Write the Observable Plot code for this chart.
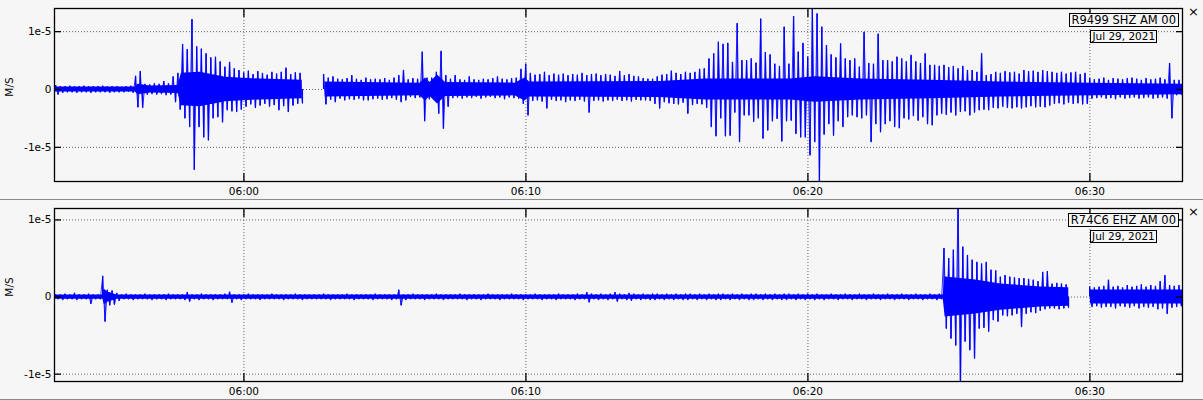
<!DOCTYPE html>
<html>
<head>
<meta charset="utf-8">
<script src="https://cdn.jsdelivr.net/npm/d3@7"></script>
<script src="https://cdn.jsdelivr.net/npm/@observablehq/plot@0.6"></script>
<style>
  html, body { margin: 0; padding: 0; background: #f6f6f6; }
  #wrap { position: relative; width: 1203px; height: 400px; overflow: hidden; background: #f6f6f6; font-family: "DejaVu Sans", sans-serif; }
  .panel { position: absolute; left: 0; }
  .sep { position: absolute; left: 0; width: 1203px; height: 1px; background: #8a8a8a; }
  .tag { position: absolute; right: 24px; display: flex; flex-direction: column; align-items: center; gap: 3px; }
  .tag div { border: 1px solid #000; background: #f6f6f6; color: #000; white-space: nowrap; }
  .tag .st { font-size: 11.5px; line-height: 12px; padding: 0 2px; }
  .tag .dt { font-size: 10.5px; line-height: 11px; padding: 0 1px; }
  .close { position: absolute; left: 1188px; font-size: 13px; line-height: 13px; color: #000; }
  .ylab { position: absolute; left: 9px; font-size: 10.5px; color: #000; transform: translate(-50%, -50%) rotate(-90deg); white-space: nowrap; }
</style>
</head>
<body>
<div id="wrap"></div>
<script>
// ---- time window and ticks ----
const day = "2021-07-29";
const windowStart = "05:53:17";
const windowEnd = "06:33:17";
const binSeconds = 10;
const xTickTimes = ["06:00:00", "06:10:00", "06:20:00", "06:30:00"];
const yTicks = [-1e-5, 0, 1e-5];
const yTickLabels = ["-1e-5", "0", "1e-5"];
const unitLabel = "M/S";
const stations = ["R9499 SHZ AM 00", "R74C6 EHZ AM 00"];
const dateLabel = "Jul 29, 2021";

// ---- panel 1 (R9499 SHZ): per-10 s bin peak up / peak down, in 1e-6 M/S ----
const p1Up = [
  0.7,0.5,0.5,0.6,0.5,0.5,0.6,0.5,0.5,0.5,0.6,0.5,0.5,0.5,0.4,0.5,0.6,
  2.3,3.1,0.9,0.8,1.0,0.9,1.4,1.0,2.2,2.8,7.8,6.9,12.1,7.4,7.0,6.2,5.5,5.6,4.8,3.9,4.7,3.6,3.3,
  2.9,3.2,2.6,3.1,2.8,2.5,3.0,2.7,3.0,3.7,2.6,2.9,2.8,
  null,null,null,null,
  2.6,
  2.0,2.2,1.8,1.7,1.9,2.4,1.8,1.6,2.0,1.7,1.8,1.7,1.9,1.6,2.0,2.4,3.3,1.7,1.9,1.8,
  6.5,2.0,2.0,3.0,6.6,2.4,
  1.8,2.4,1.7,1.6,2.2,1.7,1.6,1.8,1.7,1.9,2.2,1.8,1.7,1.9,2.0,
  3.5,4.4,
  2.8,2.5,2.6,3.0,2.4,2.7,2.5,2.7,2.4,2.6,2.5,2.8,2.4,2.6,2.7,2.4,2.6,2.5,2.3,3.1,2.4,2.6,2.3,2.2,
  1.9,1.8,1.8,2.2,2.5,2.6,3.2,2.8,2.6,3.0,2.8,3.0,3.5,3.6,5.3,6.2,8.2,7.8,8.0,4.7,11.4,5.0,5.0,5.3,4.6,
  12.2,6.4,6.0,4.4,4.0,10.8,4.4,12.6,6.5,8.0,5.6,14,13.1,10.8,7.6,6.0,5.5,7.9,5.3,5.0,5.3,3.9,9.9,4.5,4.4,
  9.6,5.0,5.0,4.8,5.6,
  5.3,4.8,5.9,4.8,4.5,6.2,4.2,4.2,4.0,4.2,3.8,4.0,3.6,4.0,3.3,3.3,3.0,6.2,2.4,2.6,
  3.0,2.8,3.1,2.9,3.0,2.7,3.3,3.1,3.2,3.0,3.3,3.1,3.0,2.8,3.0,2.7,2.9,3.0,2.6,2.8,
  1.9,1.7,1.8,2.0,1.6,1.9,1.8,1.7,1.9,2.0,1.8,1.6,1.9,1.7,1.8,2.0,1.7,
  4.5,1.6,1.6
];
const p1Down = [
  -0.9,-0.6,-0.5,-0.5,-0.6,-0.5,-0.5,-0.6,-0.5,-0.5,-0.5,-0.6,-0.5,-0.5,-0.5,-0.4,-0.6,
  -3.1,-3.2,-0.9,-0.8,-0.9,-0.8,-1.0,-0.9,-2.2,-3.5,-5.0,-6.5,-13.9,-6.5,-8.3,-8.8,-5.0,-4.8,-5.7,-3.6,-3.8,-3.9,-3.5,
  -3.0,-2.6,-3.2,-2.8,-2.5,-3.0,-2.7,-3.6,-2.9,-3.9,-2.8,-2.5,-2.4,
  null,null,null,null,
  -2.6,
  -1.8,-2.2,-1.6,-1.9,-1.7,-1.8,-1.6,-1.9,-1.9,-1.7,-1.6,-1.8,-1.7,-1.5,-1.8,-2.2,-1.9,-1.3,-1.5,-1.4,
  -5.5,-1.7,-1.6,-4.2,-6.8,-3.0,
  -1.5,-1.4,-1.6,-1.4,-1.5,-1.3,-1.6,-1.4,-1.3,-1.5,-1.4,-1.7,-1.4,-1.5,-1.6,
  -2.5,-4.5,
  -2.0,-1.9,-2.1,-3.3,-1.8,-2.0,-1.9,-2.2,-1.9,-2.0,-1.8,-2.1,-4.0,-2.0,-1.9,-2.1,-1.9,-2.0,-1.8,-2.0,-1.9,-2.1,-1.8,-1.9,
  -1.9,-2.0,-2.5,-3.3,-2.2,-2.4,-2.5,-2.6,-2.3,-4.2,-2.7,-2.5,-2.6,-3.2,-6.5,-8.1,-5.0,-8.1,-8.0,-4.0,-9.1,-4.5,-4.5,-5.6,-5.0,
  -8.5,-7.1,-5.5,-5.1,-9.0,-5.5,-5.4,-7.7,-8.3,-8.3,-11.4,-9.1,-16,-7.8,-6.0,-8.0,-5.5,-6.5,-4.8,-4.5,-4.8,-5.0,-4.5,-9.1,-6.0,
  -7.4,-6.0,-5.5,-6.5,-6.7,
  -5.0,-5.2,-4.6,-5.4,-4.8,-6.0,-6.2,-4.5,-4.2,-4.4,-4.0,-4.5,-3.9,-3.8,-4.5,-4.0,-3.6,-3.5,-3.6,-3.2,
  -3.3,-3.0,-3.2,-3.3,-3.1,-3.3,-3.1,-2.9,-3.1,-3.0,-3.1,-2.8,-2.5,-2.4,-2.6,-2.3,-2.5,-2.4,-2.6,-2.5,
  -1.6,-1.5,-1.4,-1.6,-1.5,-1.7,-1.4,-1.6,-1.5,-1.4,-1.6,-1.5,-1.4,-1.6,-1.5,-1.4,-1.6,
  -5.0,-1.0,-0.9
];
// dense core band of panel 1 (half-height, 1e-6 M/S) at read-off times; null = data gap
const p1CoreTimes = ["05:53:17","05:56:09","05:56:15","05:56:41","05:57:40","05:57:47","05:58:27","05:59:21","06:00:35","06:02:04","06:02:06","06:02:52","06:02:53","06:06:15","06:06:26","06:06:36","06:06:52","06:07:09","06:09:37","06:09:58","06:10:08","06:14:46","06:16:22","06:16:54","06:19:23","06:20:16","06:21:52","06:24:21","06:26:50","06:30:01","06:33:17"];
const p1Core = [0.45,0.45,0.9,0.6,0.7,2.8,3.0,2.1,1.8,1.6,null,null,1.3,1.1,2.0,1.2,2.5,1.2,1.1,2.0,1.3,1.4,1.8,1.8,1.8,2.2,1.8,1.6,1.3,1.1,0.9];

// ---- panel 2 (R74C6 EHZ): per-10 s bin peak up / peak down, in 1e-6 M/S ----
const p2Up = [
  0.3,0.3,0.4,0.3,0.5,0.3,0.3,0.4,0.3,0.3,
  2.7,0.9,0.8,0.5,
  0.3,0.4,0.3,0.3,0.3,0.4,0.3,0.3,0.3,0.3,0.4,0.3,0.3,0.3,
  0.6,
  0.3,0.3,0.4,0.3,0.3,0.3,0.3,0.4,
  0.65,
  0.3,0.3,0.3,0.4,0.3,0.3,0.3,0.3,0.4,0.3, 0.3,0.3,0.3,0.4,0.3,0.3,0.3,0.3,0.3,0.4,
  0.3,0.3,0.3,0.3,0.4,0.3,0.3,0.3,0.3,0.3, 0.4,0.3,0.3,0.3,0.3,
  0.9,
  0.3,0.3,0.4,0.3,0.3,0.3,0.3,0.4,0.3,0.3, 0.3,0.3,0.4,0.3,0.3,0.3,0.3,0.3,0.4,0.3,
  0.3,0.3,0.3,0.4,0.3,0.3,0.3,0.3,0.4,0.3, 0.3,0.3,0.3,0.4,0.3,0.3,0.3,0.4,0.3,
  0.6,
  0.4,0.3,0.4,0.3,0.4,
  0.6,
  0.4,0.3,
  0.5,
  0.4,0.3,0.4,0.3,0.4,0.4,0.3,0.4,0.3,0.4, 0.3,0.4,0.4,0.3,0.4,0.3,0.4,0.3,0.4,0.4,
  0.3,0.4,0.3,0.4,0.3,0.4,0.4,0.3,0.4,0.3, 0.4,0.3,0.4,0.4,0.3,0.4,0.3,0.4,0.3,0.4,
  0.3,0.3,0.4,0.3,0.3,0.4,0.3,0.3,0.4,0.3, 0.3,0.4,0.3,0.3,0.4,0.3,0.3,0.4,0.3,0.3,
  0.4,0.3,0.3,0.4,0.3,0.4,
  6.3,5.0,6.1,12.5,6.5,5.4,4.8,4.5,4.3,4.5,3.5,3.4,2.6,2.8,2.6,2.5,2.4,2.4,2.3,2.2,2.0,3.2,3.3,1.7,1.8,1.7,1.6,
  null,null,null,null,
  1.3,1.2,1.3,1.4,2.2,1.3,1.4,1.2,1.5,1.3,1.4,1.6,1.3,1.5,1.4,2.0,2.8,1.5,1.4,1.5
];
const p2Down = [
  -0.3,-0.4,-0.3,-0.3,-0.4,-0.3,-0.3,-0.9,-0.3,-0.3,
  -3.2,-1.1,-1.0,-0.5,
  -0.3,-0.3,-0.4,-0.3,-0.3,-0.3,-0.4,-0.3,-0.3,-0.4,-0.3,-0.3,-0.3,-0.4,
  -0.6,
  -0.3,-0.4,-0.3,-0.3,-0.4,-0.3,-0.3,-0.3,
  -0.75,
  -0.3,-0.4,-0.3,-0.3,-0.3,-0.4,-0.3,-0.3,-0.3,-0.3, -0.4,-0.3,-0.3,-0.3,-0.4,-0.3,-0.3,-0.3,-0.3,-0.3,
  -0.4,-0.3,-0.3,-0.3,-0.3,-0.4,-0.3,-0.3,-0.3,-0.4, -0.3,-0.3,-0.3,-0.4,-0.3,
  -1.1,
  -0.4,-0.3,-0.3,-0.3,-0.4,-0.3,-0.3,-0.3,-0.4,-0.3, -0.3,-0.3,-0.3,-0.4,-0.3,-0.3,-0.4,-0.3,-0.3,-0.3,
  -0.4,-0.3,-0.3,-0.3,-0.3,-0.4,-0.3,-0.3,-0.3,-0.4, -0.3,-0.3,-0.4,-0.3,-0.3,-0.3,-0.4,-0.3,-0.3,
  -0.7,
  -0.3,-0.4,-0.3,-0.4,-0.3,
  -0.6,
  -0.3,-0.4,
  -0.5,
  -0.3,-0.4,-0.3,-0.4,-0.4,-0.3,-0.4,-0.3,-0.4,-0.3, -0.4,-0.4,-0.3,-0.4,-0.3,-0.4,-0.3,-0.4,-0.4,-0.3,
  -0.4,-0.3,-0.4,-0.3,-0.4,-0.4,-0.3,-0.4,-0.3,-0.4, -0.3,-0.4,-0.4,-0.3,-0.4,-0.3,-0.4,-0.3,-0.4,-0.3,
  -0.4,-0.3,-0.3,-0.4,-0.3,-0.3,-0.4,-0.3,-0.3,-0.4, -0.3,-0.3,-0.4,-0.3,-0.3,-0.4,-0.3,-0.3,-0.4,-0.3,
  -0.3,-0.4,-0.3,-0.3,-0.4,-0.3,
  -4.1,-5.4,-6.3,-12,-5.8,-6.9,-8.0,-4.1,-4.0,-4.5,-3.0,-3.2,-2.4,-2.5,-2.4,-2.2,-3.9,-2.2,-2.0,-2.1,-1.8,-1.6,-1.5,-1.5,-1.6,-1.5,-1.4,
  null,null,null,null,
  -1.3,-1.2,-1.4,-1.3,-1.3,-1.5,-1.2,-1.3,-1.4,-1.2,-1.5,-1.3,-1.4,-1.3,-1.6,-1.5,-2.2,-1.4,-1.3,-1.2
];
// dense core band of panel 2 (half-height, 1e-6 M/S) at read-off times; null = data gap
const p2CoreTimes = ["05:53:17","05:55:00","05:55:03","05:55:12","05:55:14","05:55:30","05:55:31","06:24:48","06:24:52","06:25:57","06:26:50","06:28:15","06:29:15","06:29:16","06:30:00","06:30:01","06:33:17"];
const p2Core = [0.28,0.28,1.0,0.6,0.6,0.28,0.28,0.28,2.6,2.2,1.7,1.3,1.2,null,null,0.9,0.9];

// axis extents (M/S) of each panel
const p1YDomain = [-1.59e-5, 1.40e-5];
const p2YDomain = [-1.095e-5, 1.148e-5];

// ---- helpers ----
const toDate = hms => new Date(`${day}T${hms}Z`);
const t0 = toDate(windowStart).getTime();
// peaks: up-peak a quarter into each bin, down-peak three quarters in
function peaks(up, down) {
  const pts = [];
  up.forEach((u, i) => {
    const d = down[i];
    if (u != null) pts.push({t: new Date(t0 + (i + 0.25) * binSeconds * 1000), v: u * 1e-6});
    if (d != null) pts.push({t: new Date(t0 + (i + 0.75) * binSeconds * 1000), v: d * 1e-6});
  });
  return pts;
}
function trace(up, down) {
  const pts = [];
  up.forEach((u, i) => {
    const d = down[i];
    pts.push({t: new Date(t0 + (i + 0.25) * binSeconds * 1000), v: u == null ? NaN : u * 1e-6});
    pts.push({t: new Date(t0 + (i + 0.75) * binSeconds * 1000), v: d == null ? NaN : d * 1e-6});
  });
  return pts;
}
function core(times, amps) {
  return times.map((s, i) => ({t: toDate(s), a: amps[i] == null ? NaN : amps[i] * 1e-6}));
}

const xTicks = xTickTimes.map(toDate);
const fmtTime = d3.utcFormat("%H:%M");
const fmtY = d => yTickLabels[yTicks.indexOf(d)];
const BLUE = "#0000ff";

function panel(up, down, coreData, yDomain, height, marginBottom) {
  return Plot.plot({
    width: 1203,
    height,
    marginLeft: 54,
    marginRight: 21,
    marginTop: 8,
    marginBottom,
    style: {background: "transparent", fontFamily: "DejaVu Sans, sans-serif", fontSize: "10.5px", color: "#000", overflow: "visible"},
    x: {type: "utc", domain: [toDate(windowStart), toDate(windowEnd)], label: null},
    y: {domain: yDomain, label: null},
    marks: [
      Plot.gridX(xTicks, {stroke: "#666", strokeOpacity: 1, strokeDasharray: "1,2"}),
      Plot.gridY(yTicks, {stroke: "#666", strokeOpacity: 1, strokeDasharray: "1,2"}),
      Plot.areaY(coreData, {x: "t", y1: d => -d.a, y2: "a", fill: BLUE, clip: true}),
      Plot.ruleX(peaks(up, down), {x: "t", y1: 0, y2: "v", stroke: BLUE, strokeWidth: 1.3, clip: true}),
      Plot.line(trace(up, down), {x: "t", y: "v", stroke: BLUE, strokeWidth: 0.8, clip: true}),
      Plot.frame({stroke: "#000", strokeWidth: 1.3}),
      Plot.axisX(xTicks, {anchor: "bottom", tickSize: 0, tickPadding: 6, tickFormat: fmtTime}),
      Plot.axisX(xTicks, {anchor: "bottom", tickSize: -8, strokeWidth: 1.3, tickFormat: () => ""}),
      Plot.axisX(xTicks, {anchor: "top", tickSize: -8, strokeWidth: 1.3, tickFormat: () => ""}),
      Plot.axisY(yTicks, {anchor: "left", tickSize: 0, tickPadding: 3, tickFormat: fmtY}),
      Plot.axisY(yTicks, {anchor: "left", tickSize: -7, strokeWidth: 1.3, tickFormat: () => ""}),
      Plot.axisY(yTicks, {anchor: "right", tickSize: -7, strokeWidth: 1.3, tickFormat: () => ""})
    ]
  });
}

const wrap = document.getElementById("wrap");
function addPanel(top, svg, station, labelY) {
  const holder = document.createElement("div");
  holder.className = "panel";
  holder.style.top = top + "px";
  holder.appendChild(svg);
  wrap.appendChild(holder);

  const tag = document.createElement("div");
  tag.className = "tag";
  tag.style.top = (top + 13) + "px";
  const st = document.createElement("div"); st.className = "st"; st.textContent = station;
  const dt = document.createElement("div"); dt.className = "dt"; dt.textContent = dateLabel;
  tag.appendChild(st); tag.appendChild(dt);
  wrap.appendChild(tag);

  const close = document.createElement("div");
  close.className = "close";
  close.style.top = (top + 5) + "px";
  close.textContent = "×";
  wrap.appendChild(close);

  const yl = document.createElement("div");
  yl.className = "ylab";
  yl.style.top = labelY + "px";
  yl.textContent = unitLabel;
  wrap.appendChild(yl);
}

addPanel(0, panel(p1Up, p1Down, core(p1CoreTimes, p1Core), p1YDomain, 199, 18), stations[0], 87);
addPanel(200, panel(p2Up, p2Down, core(p2CoreTimes, p2Core), p2YDomain, 200, 19), stations[1], 287);

const sep1 = document.createElement("div"); sep1.className = "sep"; sep1.style.top = "199px"; wrap.appendChild(sep1);
const sep2 = document.createElement("div"); sep2.className = "sep"; sep2.style.top = "399px"; wrap.appendChild(sep2);
</script>
</body>
</html>
